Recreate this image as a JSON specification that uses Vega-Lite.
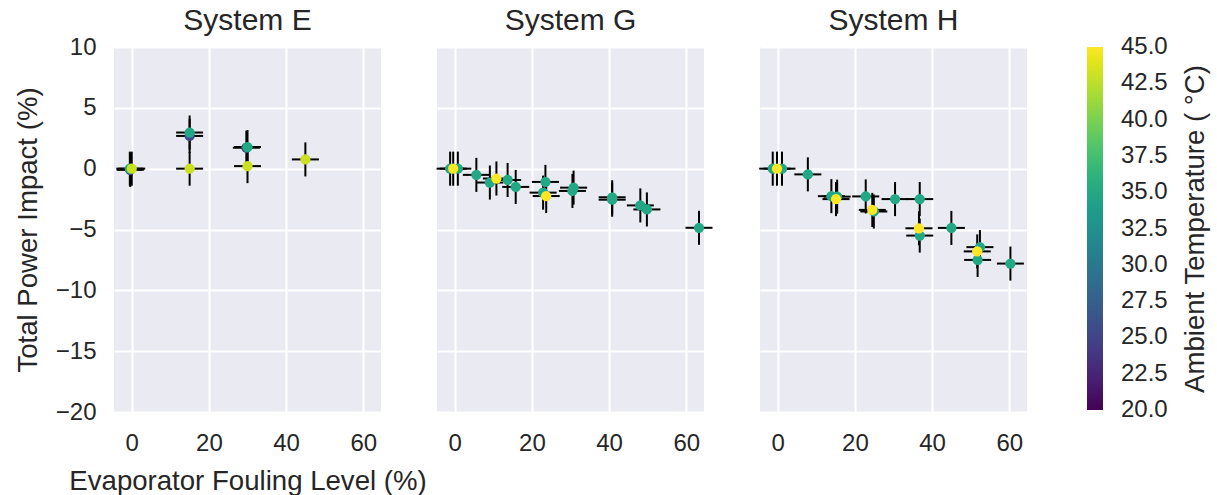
{
  "$schema": "https://vega.github.io/schema/vega-lite/v6.json",
  "background": "white",
  "padding": {"left": 14, "top": 6, "right": 2, "bottom": 2},
  "bounds": "flush",
  "spacing": 56,
  "config": {
    "view": {"fill": "#EAEAF2", "stroke": null},
    "font": "Liberation Sans",
    "axis": {"grid": true, "gridColor": "white", "gridWidth": 2, "domain": false, "ticks": false, "tickSize": 0,
             "labelFontSize": 24, "labelColor": "#262626", "titleFontSize": 27.6, "titleColor": "#262626",
             "titleFontWeight": "normal", "labelFont": "Liberation Sans", "titleFont": "Liberation Sans"},
    "title": {"fontSize": 30, "fontWeight": "normal", "color": "#262626", "font": "Liberation Sans", "offset": -1, "frame": "group"}
  },
  "datasets": {
    "pts": [
      {"sys": "E", "x": -0.4, "y": -0.1, "t": 25.5, "xe": 3.5, "ye": 1.4},
      {"sys": "E", "x": 15, "y": 2.69, "t": 25.5, "xe": 3.5, "ye": 1.4},
      {"sys": "E", "x": 29.7, "y": 1.72, "t": 25.5, "xe": 3.5, "ye": 1.4},
      {"sys": "E", "x": -0.5, "y": 0, "t": 35, "xe": 3.5, "ye": 1.4},
      {"sys": "E", "x": 15, "y": 2.97, "t": 35, "xe": 3.5, "ye": 1.4},
      {"sys": "E", "x": 30, "y": 1.78, "t": 35, "xe": 3.5, "ye": 1.4},
      {"sys": "E", "x": 0, "y": 0, "t": 43, "xe": 3.5, "ye": 1.4},
      {"sys": "E", "x": 15, "y": 0, "t": 43, "xe": 3.5, "ye": 1.4},
      {"sys": "E", "x": 30, "y": 0.21, "t": 43, "xe": 3.5, "ye": 1.4},
      {"sys": "E", "x": 45, "y": 0.76, "t": 43, "xe": 3.5, "ye": 1.4},

      {"sys": "G", "x": -1.2, "y": 0, "t": 35, "xe": 3.5, "ye": 1.4},
      {"sys": "G", "x": 0.8, "y": 0, "t": 35, "xe": 3.5, "ye": 1.4},
      {"sys": "G", "x": 5.6, "y": -0.51, "t": 35, "xe": 3.5, "ye": 1.4},
      {"sys": "G", "x": 9.1, "y": -1.14, "t": 35, "xe": 3.5, "ye": 1.4},
      {"sys": "G", "x": 13.7, "y": -0.93, "t": 35, "xe": 3.5, "ye": 1.4},
      {"sys": "G", "x": 15.8, "y": -1.5, "t": 35, "xe": 3.5, "ye": 1.4},
      {"sys": "G", "x": 23.5, "y": -1.09, "t": 35, "xe": 3.5, "ye": 1.4},
      {"sys": "G", "x": 22.9, "y": -1.97, "t": 35, "xe": 3.5, "ye": 1.4},
      {"sys": "G", "x": 30.8, "y": -1.56, "t": 35, "xe": 3.5, "ye": 1.4},
      {"sys": "G", "x": 30.5, "y": -1.83, "t": 35, "xe": 3.5, "ye": 1.4},
      {"sys": "G", "x": 40.8, "y": -2.35, "t": 35, "xe": 3.5, "ye": 1.4},
      {"sys": "G", "x": 40.8, "y": -2.55, "t": 35, "xe": 3.5, "ye": 1.4},
      {"sys": "G", "x": 48.1, "y": -3.02, "t": 35, "xe": 3.5, "ye": 1.4},
      {"sys": "G", "x": 49.8, "y": -3.35, "t": 35, "xe": 3.5, "ye": 1.4},
      {"sys": "G", "x": 63.3, "y": -4.86, "t": 35, "xe": 3.5, "ye": 1.4},
      {"sys": "G", "x": -0.4, "y": 0, "t": 45, "xe": 3.5, "ye": 1.4},
      {"sys": "G", "x": 10.8, "y": -0.81, "t": 45, "xe": 3.5, "ye": 1.4},
      {"sys": "G", "x": 23.7, "y": -2.25, "t": 45, "xe": 3.5, "ye": 1.4},

      {"sys": "H", "x": -1.3, "y": 0, "t": 35, "xe": 3.5, "ye": 1.4},
      {"sys": "H", "x": 1.1, "y": 0, "t": 35, "xe": 3.5, "ye": 1.4},
      {"sys": "H", "x": 7.8, "y": -0.47, "t": 35, "xe": 3.5, "ye": 1.4},
      {"sys": "H", "x": 13.9, "y": -2.26, "t": 35, "xe": 3.5, "ye": 1.4},
      {"sys": "H", "x": 15.4, "y": -2.3, "t": 35, "xe": 3.5, "ye": 1.4},
      {"sys": "H", "x": 22.8, "y": -2.28, "t": 35, "xe": 3.5, "ye": 1.4},
      {"sys": "H", "x": 24.9, "y": -3.52, "t": 35, "xe": 3.5, "ye": 1.4},
      {"sys": "H", "x": 30.4, "y": -2.5, "t": 35, "xe": 3.5, "ye": 1.4},
      {"sys": "H", "x": 36.8, "y": -2.5, "t": 35, "xe": 3.5, "ye": 1.4},
      {"sys": "H", "x": 36.8, "y": -5.5, "t": 35, "xe": 3.5, "ye": 1.4},
      {"sys": "H", "x": 45.0, "y": -4.87, "t": 35, "xe": 3.5, "ye": 1.4},
      {"sys": "H", "x": 52.4, "y": -6.45, "t": 35, "xe": 3.5, "ye": 1.4},
      {"sys": "H", "x": 51.8, "y": -7.5, "t": 35, "xe": 3.5, "ye": 1.4},
      {"sys": "H", "x": 60.3, "y": -7.8, "t": 35, "xe": 3.5, "ye": 1.4},
      {"sys": "H", "x": -0.2, "y": 0, "t": 45, "xe": 3.5, "ye": 1.4},
      {"sys": "H", "x": 15.1, "y": -2.5, "t": 45, "xe": 3.5, "ye": 1.4},
      {"sys": "H", "x": 24.5, "y": -3.39, "t": 45, "xe": 3.5, "ye": 1.4},
      {"sys": "H", "x": 36.6, "y": -4.9, "t": 45, "xe": 3.5, "ye": 1.4},
      {"sys": "H", "x": 51.7, "y": -6.8, "t": 45, "xe": 3.5, "ye": 1.4}
    ]
  },
  "hconcat": [
    {
      "width": 267, "height": 365,
      "title": "System E",
      "data": {"name": "pts"},
      "transform": [{"filter": "datum.sys === 'E'"}],
      "encoding": {
        "x": {"field": "x", "type": "quantitative", "scale": {"domain": [-4.6, 64.6], "nice": false, "zero": false},
              "axis": {"values": [0, 20, 40, 60], "title": "Evaporator Fouling Level (%)", "labelPadding": 19, "titlePadding": 12}},
        "y": {"field": "y", "type": "quantitative", "scale": {"domain": [-20, 10], "nice": false, "zero": false},
              "axis": {"values": [-20, -15, -10, -5, 0, 5, 10], "title": "Total Power Impact (%)", "labelPadding": 18, "titlePadding": 13}}
      },
      "layer": [
        {"mark": {"type": "errorbar", "ticks": false, "color": "black", "thickness": 2}, "encoding": {"xError": {"field": "xe"}}},
        {"mark": {"type": "errorbar", "ticks": false, "color": "black", "thickness": 2}, "encoding": {"yError": {"field": "ye"}}},
        {"mark": {"type": "circle", "size": 105, "opacity": 1},
         "encoding": {"color": {"field": "t", "type": "quantitative"}, "order": {"field": "t", "type": "quantitative"}}}
      ]
    },
    {
      "width": 267, "height": 365,
      "title": "System G",
      "data": {"name": "pts"},
      "transform": [{"filter": "datum.sys === 'G'"}],
      "encoding": {
        "x": {"field": "x", "type": "quantitative", "scale": {"domain": [-4.6, 64.6], "nice": false, "zero": false},
              "axis": {"values": [0, 20, 40, 60], "title": null, "labelPadding": 19}},
        "y": {"field": "y", "type": "quantitative", "scale": {"domain": [-20, 10], "nice": false, "zero": false},
              "axis": {"values": [-20, -15, -10, -5, 0, 5, 10], "title": null, "labelOpacity": 0, "labelPadding": 18}}
      },
      "layer": [
        {"mark": {"type": "errorbar", "ticks": false, "color": "black", "thickness": 2}, "encoding": {"xError": {"field": "xe"}}},
        {"mark": {"type": "errorbar", "ticks": false, "color": "black", "thickness": 2}, "encoding": {"yError": {"field": "ye"}}},
        {"mark": {"type": "circle", "size": 105, "opacity": 1},
         "encoding": {"color": {"field": "t", "type": "quantitative"}, "order": {"field": "t", "type": "quantitative"}}}
      ]
    },
    {
      "width": 267, "height": 365,
      "title": "System H",
      "data": {"name": "pts"},
      "transform": [{"filter": "datum.sys === 'H'"}],
      "encoding": {
        "x": {"field": "x", "type": "quantitative", "scale": {"domain": [-4.6, 64.6], "nice": false, "zero": false},
              "axis": {"values": [0, 20, 40, 60], "title": null, "labelPadding": 19}},
        "y": {"field": "y", "type": "quantitative", "scale": {"domain": [-20, 10], "nice": false, "zero": false},
              "axis": {"values": [-20, -15, -10, -5, 0, 5, 10], "title": null, "labelOpacity": 0, "labelPadding": 18}}
      },
      "layer": [
        {"mark": {"type": "errorbar", "ticks": false, "color": "black", "thickness": 2}, "encoding": {"xError": {"field": "xe"}}},
        {"mark": {"type": "errorbar", "ticks": false, "color": "black", "thickness": 2}, "encoding": {"yError": {"field": "ye"}}},
        {"mark": {"type": "circle", "size": 105, "opacity": 1},
         "encoding": {"color": {"field": "t", "type": "quantitative",
                                "scale": {"scheme": "viridis", "domain": [20, 45]},
                                "legend": {"title": "Ambient Temperature ( °C)", "titleOrient": "right", "type": "gradient", "direction": "vertical",
                                           "gradientLength": 363, "gradientThickness": 16,
                                           "values": [20, 22.5, 25, 27.5, 30, 32.5, 35, 37.5, 40, 42.5, 45], "format": ".1f",
                                           "labelFontSize": 24, "labelColor": "#262626", "labelOffset": 18,
                                           "titleFontSize": 27.6, "titleFontWeight": "normal", "titleColor": "#262626", "titlePadding": 14,
                                           "titleLimit": 600, "offset": 60,
                                           "encoding": {"title": {"angle": {"value": -90}, "baseline": {"value": "top"}},
                                                        "labels": {"baseline": {"value": "middle"}}}}},
                     "order": {"field": "t", "type": "quantitative"}}}
      ]
    }
  ],
  "resolve": {"scale": {"color": "shared"}}
}
